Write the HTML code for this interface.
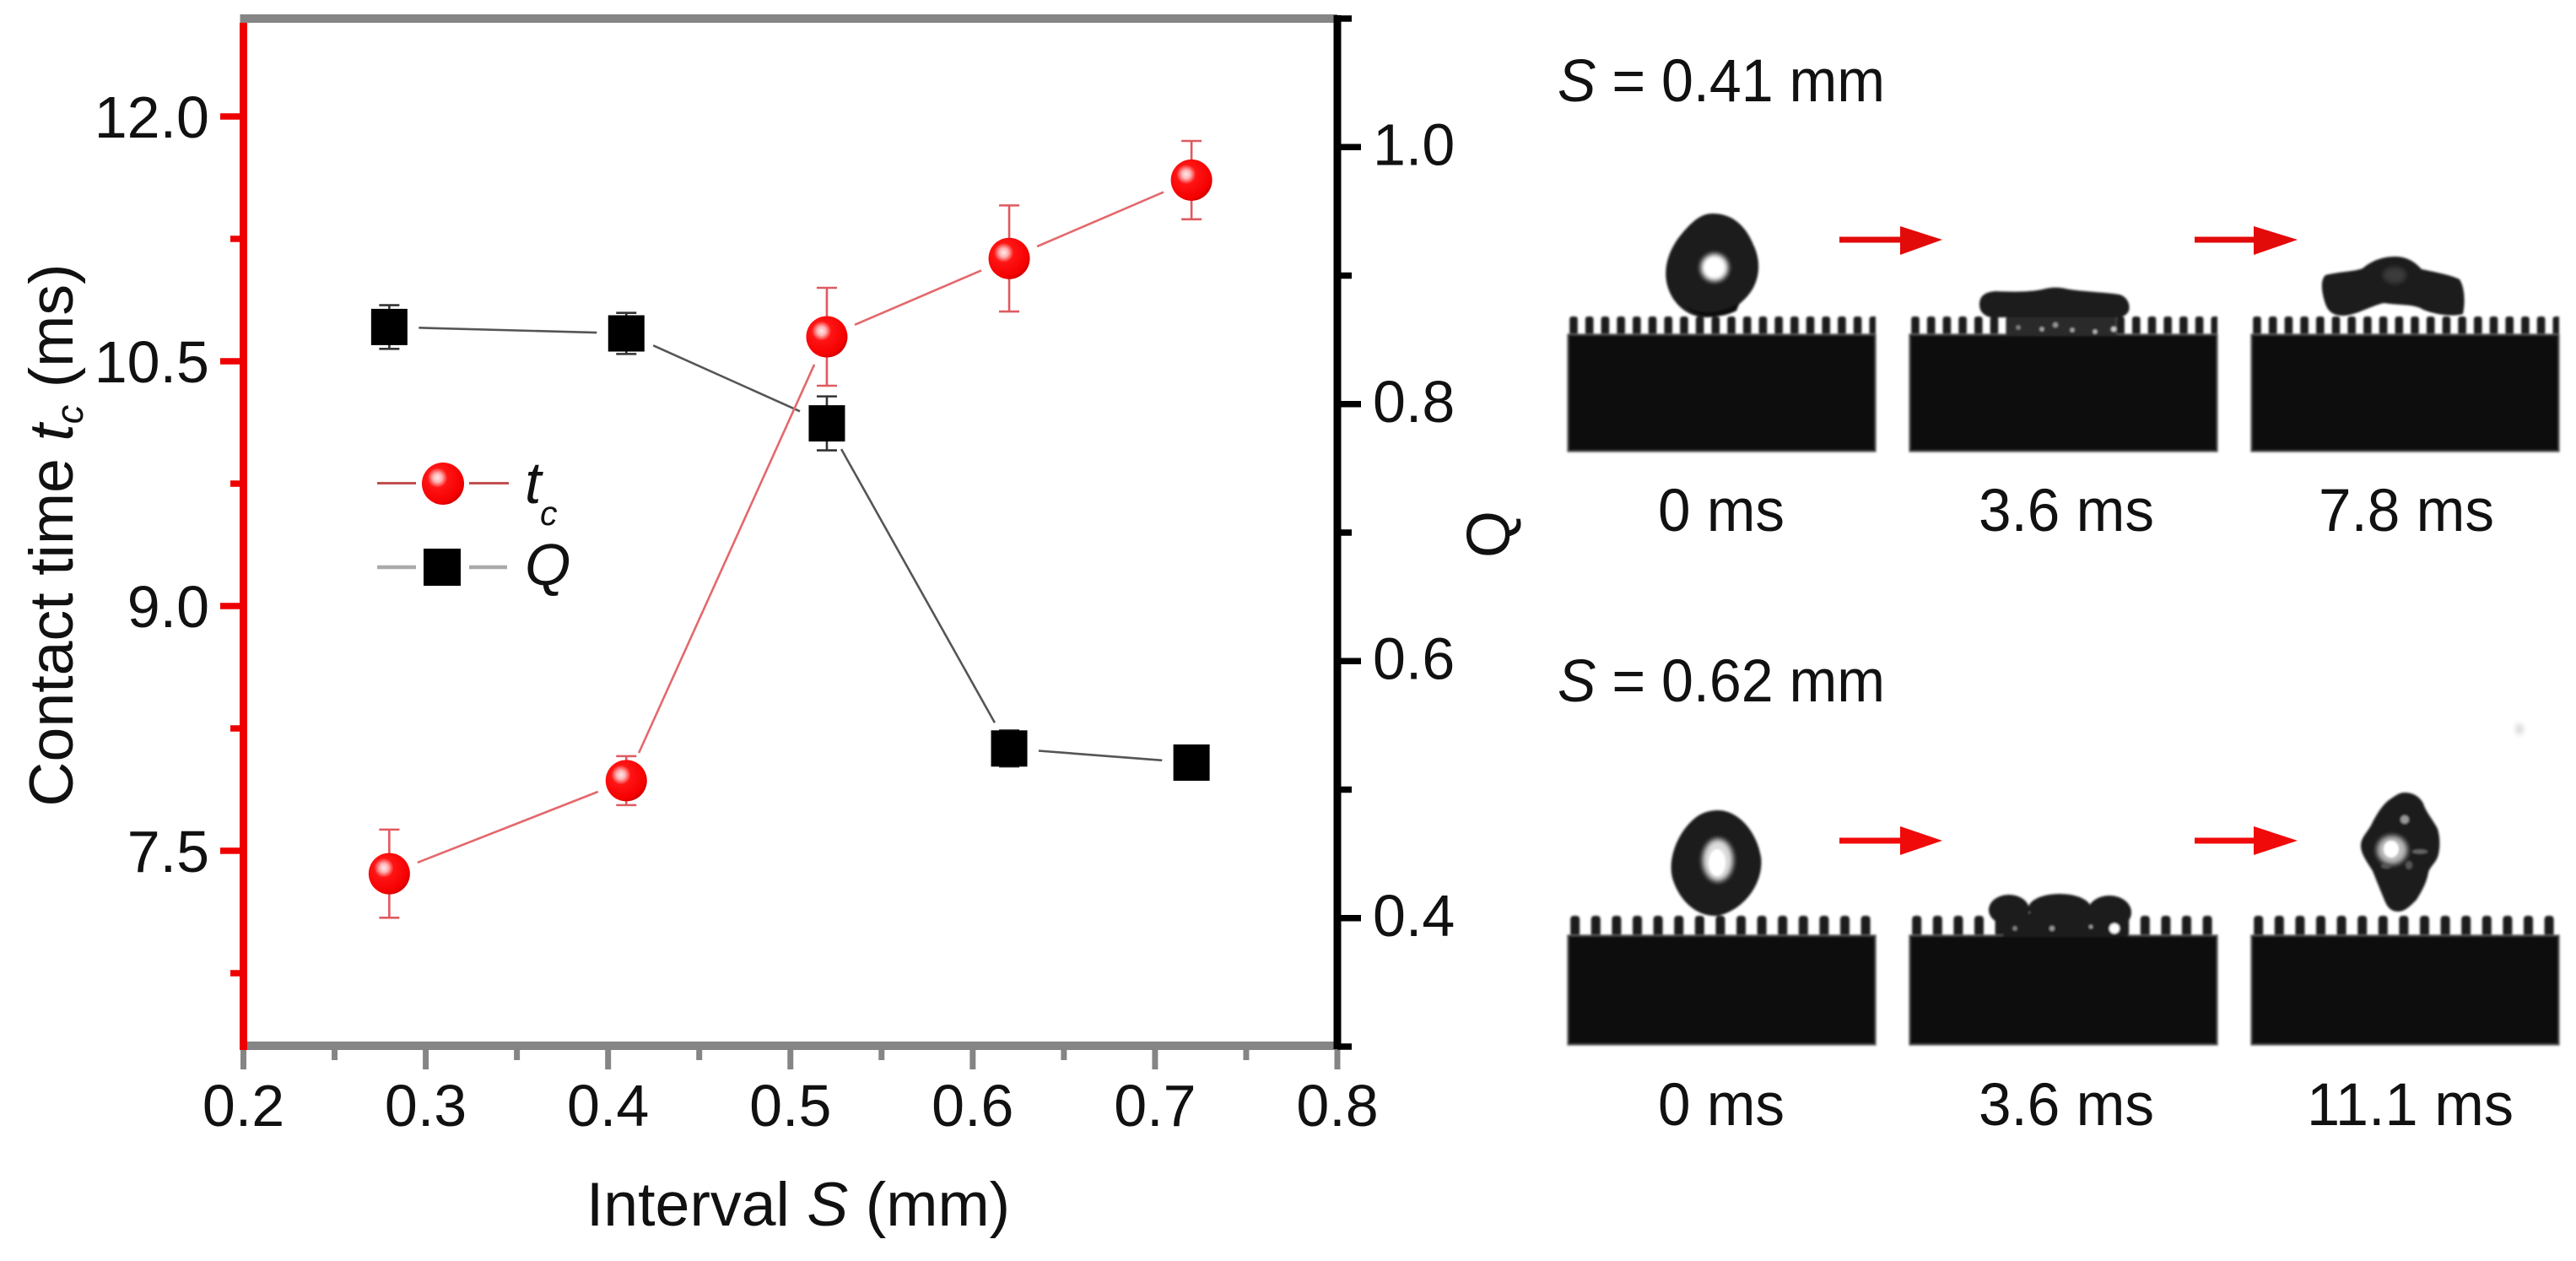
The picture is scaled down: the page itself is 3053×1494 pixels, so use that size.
<!DOCTYPE html>
<html lang="en">
<head>
<meta charset="utf-8">
<title>Contact time and Q versus interval S</title>
<style>
html,body{margin:0;padding:0;background:#fff;}
body{width:3053px;height:1494px;overflow:hidden;}
svg{display:block;}
text{font-family:"Liberation Sans",Arial,sans-serif;fill:#111;}
</style>
</head>
<body>
<svg id="fig" xmlns="http://www.w3.org/2000/svg" width="3053" height="1494" viewBox="0 0 3053 1494">
<defs>
<radialGradient id="ball" cx="0.37" cy="0.36" r="0.66">
<stop offset="0" stop-color="#ffe8e8"/>
<stop offset="0.16" stop-color="#ffb4b4"/>
<stop offset="0.36" stop-color="#ff1414"/>
<stop offset="0.9" stop-color="#f40000"/>
<stop offset="1" stop-color="#d60000"/>
</radialGradient>
<filter id="soft" x="-5%" y="-5%" width="110%" height="110%"><feGaussianBlur stdDeviation="1.3"/></filter>
<filter id="softer" x="-40%" y="-40%" width="180%" height="180%"><feGaussianBlur stdDeviation="3"/></filter>
<pattern id="teeth1" patternUnits="userSpaceOnUse" x="1860.2" y="370" width="18.7" height="40"><rect x="0" y="5" width="9.6" height="35" rx="3" fill="#1a1a1a"/></pattern>
<pattern id="teeth2" patternUnits="userSpaceOnUse" x="1861.2" y="1080" width="24.6" height="40"><rect x="0" y="5" width="11" height="35" rx="4" fill="#1a1a1a"/></pattern>
<g id="panel-row-1">
<rect x="1858" y="375" width="365" height="25" fill="url(#teeth1)"/>
<rect x="1858" y="396" width="365" height="139" fill="#111111" stroke="#666" stroke-width="1.5"/>
</g>
<g id="panel-row-2">
<rect x="1858" y="1085" width="365" height="28" fill="url(#teeth2)"/>
<rect x="1858" y="1108" width="365" height="130" fill="#111111" stroke="#666" stroke-width="1.5"/>
</g>
</defs>
<rect x="0" y="0" width="3053" height="1494" fill="#ffffff"/>

<g id="plot"></g>

<g>
<text x="946" y="1452" text-anchor="middle" font-size="73.500">Interval <tspan font-style="italic">S</tspan> (mm)</text>
</g>
<g>
<text transform="translate(86,634) rotate(-90)" text-anchor="middle" font-size="73.500">Contact time <tspan font-style="italic">t</tspan><tspan font-style="italic" font-size="45" dy="12">c</tspan><tspan dy="-12"> (ms)</tspan></text>
</g>
<g>
<text transform="translate(1789,633) rotate(-90)" text-anchor="middle" font-size="72">Q</text>
</g>

<g>
<g>
<line x1="447" y1="572.500" x2="493" y2="572.500" stroke="#c25050" stroke-width="3"/>
<line x1="556" y1="572.500" x2="603" y2="572.500" stroke="#c25050" stroke-width="3"/>
<circle cx="525" cy="573" r="25" fill="url(#ball)"/>
<text x="622" y="596" font-size="70" font-style="italic">t</text>
<text x="640" y="622" font-size="41" font-style="italic">c</text>
</g>
<g>
<line x1="447" y1="672" x2="493" y2="672" stroke="#aaaaaa" stroke-width="4.500"/>
<line x1="556" y1="672" x2="601" y2="672" stroke="#aaaaaa" stroke-width="4.500"/>
<rect x="502" y="650" width="44" height="44" fill="#000"/>
<text x="622" y="693" font-size="70" font-style="italic">Q</text>
</g>
</g>

<!-- Photo strip, row 1 -->
<g>
<text x="1846" y="120" font-size="71" textLength="388" lengthAdjust="spacingAndGlyphs"><tspan font-style="italic">S</tspan> = 0.41 mm</text>
<g filter="url(#soft)">
<g>
<use href="#panel-row-1"/>
<path d="M2030 253C2055 253 2070 270 2078 290C2088 310 2086 335 2070 352C2055 368 2038 376 2022 376C2000 376 1982 360 1976 338C1970 315 1980 292 1994 276C2006 262 2016 253 2030 253Z" fill="#1a1a1a"/>
<path d="M1998 362C2012 372 2036 374 2062 358L2058 368C2040 378 2010 378 1998 362Z" fill="#0a0a0a"/>
<ellipse cx="2032" cy="317" rx="16" ry="16" fill="#fff" filter="url(#softer)"/>
<ellipse cx="2031" cy="317" rx="11" ry="11" fill="#fff"/>
</g>
<g>
<use href="#panel-row-1" transform="translate(405,0)"/>
<rect x="2378" y="372" width="130" height="26" fill="#2a2a2a"/>
<path d="M2346 361C2346 351 2352 346 2365 345C2385 346 2405 346 2420 343C2430 340 2440 340 2448 342C2470 346 2495 346 2512 349C2522 352 2525 362 2523 368C2520 376 2510 377 2500 376L2370 376C2356 378 2346 372 2346 361Z" fill="#1e1e1e"/>
<circle cx="2420" cy="390" r="2.500" fill="#aaa"/><circle cx="2436" cy="385" r="3" fill="#999"/><circle cx="2456" cy="391" r="2.500" fill="#aaa"/><circle cx="2483" cy="393" r="2.500" fill="#bbb"/><circle cx="2392" cy="388" r="2.500" fill="#888"/><circle cx="2505" cy="390" r="3" fill="#ccc"/>
</g>
<g>
<use href="#panel-row-1" transform="translate(810,0)"/>
<path d="M2839 304C2852 304 2862 310 2870 319C2885 322 2905 326 2915 331C2921 340 2922 358 2919 372C2905 376 2885 372 2872 367C2862 360 2845 362 2825 359C2812 362 2798 370 2785 373C2770 376 2760 372 2756 360C2751 345 2750 332 2756 326C2770 322 2790 322 2800 318C2812 308 2825 304 2839 304Z" fill="#1c1c1c"/>
<ellipse cx="2838" cy="326" rx="14" ry="10" fill="#3a3a3a" filter="url(#softer)"/>
</g>
</g>
<polygon points="2180,280.500 2252,280.500 2252,268 2302,284 2252,302 2252,287.500 2180,287.500" fill="#e30a0a"/>
<polygon points="2601,280.500 2671,280.500 2671,268 2723,284 2671,302 2671,287.500 2601,287.500" fill="#e30a0a"/>
<text x="1965" y="629" font-size="71" textLength="150" lengthAdjust="spacingAndGlyphs">0 ms</text>
<text x="2345" y="629" font-size="71" textLength="208" lengthAdjust="spacingAndGlyphs">3.6 ms</text>
<text x="2748" y="629" font-size="71" textLength="208" lengthAdjust="spacingAndGlyphs">7.8 ms</text>
</g>

<!-- Photo strip, row 2 -->
<g>
<text x="1846" y="831" font-size="71" textLength="388" lengthAdjust="spacingAndGlyphs"><tspan font-style="italic">S</tspan> = 0.62 mm</text>
<g filter="url(#soft)">
<g>
<use href="#panel-row-2"/>
<path d="M2036 960C2060 960 2082 985 2087 1015C2091 1045 2068 1078 2036 1085C2012 1087 1990 1068 1982 1040C1976 1015 1990 985 2008 970C2016 963 2026 960 2036 960Z" fill="#1b1b1b"/>
<ellipse cx="2036" cy="1019" rx="18" ry="25" fill="#ddd" filter="url(#softer)"/>
<ellipse cx="2035" cy="1022" rx="10" ry="16" fill="#fff"/>
</g>
<g>
<use href="#panel-row-2" transform="translate(405,0)"/>
<rect x="2374" y="1082" width="148" height="28" fill="#1c1c1c"/>
<ellipse cx="2381" cy="1078" rx="24" ry="18" fill="#1c1c1c"/>
<ellipse cx="2441" cy="1076" rx="37" ry="17" fill="#1c1c1c"/>
<ellipse cx="2500" cy="1081" rx="26" ry="20" fill="#1c1c1c"/>
<circle cx="2506" cy="1100" r="6" fill="#fff"/><circle cx="2432" cy="1100" r="3" fill="#999"/><circle cx="2388" cy="1100" r="2.500" fill="#888"/><circle cx="2478" cy="1098" r="2" fill="#aaa"/>
</g>
<g>
<use href="#panel-row-2" transform="translate(810,0)"/>
<path d="M2850 939C2860 939 2868 944 2872 952C2875 962 2884 972 2889 982C2892 992 2892 1004 2890 1012C2888 1022 2880 1026 2878 1034C2876 1046 2870 1056 2864 1066C2856 1074 2850 1080 2842 1080C2832 1080 2828 1072 2825 1064C2820 1052 2816 1042 2812 1032C2806 1022 2798 1012 2798 1002C2798 992 2806 986 2811 976C2816 966 2824 952 2834 946C2840 942 2844 939 2850 939Z" fill="#1b1b1b"/>
<ellipse cx="2835" cy="1007" rx="18" ry="17" fill="#bbb" filter="url(#softer)"/>
<ellipse cx="2834" cy="1006" rx="9" ry="10" fill="#fff"/>
<circle cx="2850" cy="971" r="5" fill="#999"/>
<ellipse cx="2868" cy="1009" rx="9" ry="2.500" fill="#666"/>
<ellipse cx="2828" cy="1026" rx="6" ry="3" fill="#555"/><ellipse cx="2855" cy="1025" rx="4" ry="5" fill="#555"/>
</g>
</g>
<polygon points="2180,992.500 2252,992.500 2252,979 2302,996 2252,1013 2252,999.500 2180,999.500" fill="#f00a0a"/>
<polygon points="2601,992.500 2671,992.500 2671,979 2723,996 2671,1013 2671,999.500 2601,999.500" fill="#f00a0a"/>
<ellipse cx="2986" cy="864" rx="5" ry="7" fill="#ddd" filter="url(#softer)"/>
<text x="1965" y="1333" font-size="71" textLength="150" lengthAdjust="spacingAndGlyphs">0 ms</text>
<text x="2345" y="1333" font-size="71" textLength="208" lengthAdjust="spacingAndGlyphs">3.6 ms</text>
<text x="2734" y="1333" font-size="71" textLength="245" lengthAdjust="spacingAndGlyphs">11.1 ms</text>
</g>
</svg>

<script>
const intervalS = [0.28, 0.41, 0.52, 0.62, 0.72];
const contactTime = [7.36, 7.93, 10.65, 11.13, 11.61];
const contactTimeErr = [0.27, 0.15, 0.30, 0.325, 0.24];
const qValues = [0.86, 0.855, 0.785, 0.532, 0.521];
const qErr = [0.017, 0.016, 0.021, 0.014, 0.004];
const xMajorTicks = [0.2, 0.3, 0.4, 0.5, 0.6, 0.7, 0.8];
const xMinorTicks = [0.25, 0.35, 0.45, 0.55, 0.65, 0.75];
const xTickLabels = ["0.2", "0.3", "0.4", "0.5", "0.6", "0.7", "0.8"];
const leftMajorTicks = [7.5, 9.0, 10.5, 12.0];
const leftMinorTicks = [6.75, 8.25, 9.75, 11.25];
const leftTickLabels = ["7.5", "9.0", "10.5", "12.0"];
const rightMajorTicks = [0.4, 0.6, 0.8, 1.0];
const rightMinorTicks = [0.3, 0.5, 0.7, 0.9, 1.1];
const rightTickLabels = ["0.4", "0.6", "0.8", "1.0"];

const xDomain = [0.2, 0.8];
const leftDomain = [6.3, 12.6];
const rightDomain = [0.3, 1.1];
const plotLeft = 288.5;
const plotRight = 1585;
const plotTop = 22;
const plotBottom = 1240;

function xScale(v) {
  return plotLeft + (v - xDomain[0]) / (xDomain[1] - xDomain[0]) * (plotRight - plotLeft);
}
function yLeft(v) {
  return plotBottom - (v - leftDomain[0]) / (leftDomain[1] - leftDomain[0]) * (plotBottom - plotTop);
}
function yRight(v) {
  return plotBottom - (v - rightDomain[0]) / (rightDomain[1] - rightDomain[0]) * (plotBottom - plotTop);
}

const svgNS = "http://www.w3.org/2000/svg";
const plot = document.getElementById("plot");
function make(tag, attrs, parent) {
  const el = document.createElementNS(svgNS, tag);
  for (const k in attrs) el.setAttribute(k, attrs[k]);
  (parent || plot).appendChild(el);
  return el;
}

const gray = "#858585";
const red = "#ee0000";
const black = "#000000";

// x axis ticks and labels
xMajorTicks.forEach(function (v, i) {
  const t = make("line", { x1: xScale(v), x2: xScale(v), y1: plotBottom, y2: 1267, stroke: gray, "stroke-width": 7 });
  
  
  const l = make("text", { x: xScale(v), y: 1334, "text-anchor": "middle", "font-size": 70 });
  l.textContent = xTickLabels[i];
  
  
});
xMinorTicks.forEach(function (v) {
  const t = make("line", { x1: xScale(v), x2: xScale(v), y1: plotBottom, y2: 1256, stroke: gray, "stroke-width": 7 });
  
  
});

// frame: bottom and top axes
const bottomAxis = make("line", { x1: plotLeft - 4, x2: plotRight, y1: plotBottom - 1, y2: plotBottom - 1, stroke: gray, "stroke-width": 10 });


const topAxis = make("line", { x1: plotLeft - 4, x2: plotRight, y1: plotTop, y2: plotTop, stroke: gray, "stroke-width": 10 });



// left axis
const leftAxis = make("line", { x1: plotLeft, x2: plotLeft, y1: plotTop + 5, y2: plotBottom + 4, stroke: red, "stroke-width": 9 });


leftMajorTicks.forEach(function (v, i) {
  const t = make("line", { x1: 261, x2: plotLeft, y1: yLeft(v), y2: yLeft(v), stroke: red, "stroke-width": 7.5 });
  
  
  const l = make("text", { x: 248, y: yLeft(v) + 25, "text-anchor": "end", "font-size": 70 });
  l.textContent = leftTickLabels[i];
  
  
});
leftMinorTicks.forEach(function (v) {
  const t = make("line", { x1: 273, x2: plotLeft, y1: yLeft(v), y2: yLeft(v), stroke: red, "stroke-width": 7.5 });
  
  
});

// right axis
const rightAxis = make("line", { x1: plotRight, x2: plotRight, y1: plotTop - 4, y2: plotBottom + 3, stroke: black, "stroke-width": 9 });


rightMajorTicks.forEach(function (v, i) {
  const t = make("line", { x1: plotRight, x2: 1613, y1: yRight(v), y2: yRight(v), stroke: black, "stroke-width": 7.5 });
  
  
  const l = make("text", { x: 1627, y: yRight(v) + 21, "font-size": 70 });
  l.textContent = rightTickLabels[i];
  
  
});
rightMinorTicks.forEach(function (v) {
  const t = make("line", { x1: plotRight, x2: 1602, y1: yRight(v), y2: yRight(v), stroke: black, "stroke-width": 7.5 });
  
  
});

// series connector drawn with a gap around each marker
function connector(xs, ys, color, gap, i) {
  const dx = xs[i + 1] - xs[i];
  const dy = ys[i + 1] - ys[i];
  const len = Math.sqrt(dx * dx + dy * dy);
  const ux = dx / len;
  const uy = dy / len;
  return make("line", {
    x1: xs[i] + ux * gap, y1: ys[i] + uy * gap,
    x2: xs[i + 1] - ux * gap, y2: ys[i + 1] - uy * gap,
    stroke: color, "stroke-width": 2.6
  });
}

const px = intervalS.map(xScale);
const tcY = contactTime.map(yLeft);
const qY = qValues.map(yRight);

for (let i = 0; i < px.length - 1; i++) {
  const s = connector(px, qY, "#555555", 35, i);
  
  
}
for (let i = 0; i < px.length - 1; i++) {
  const s = connector(px, tcY, "#e4686c", 36, i);
  
  
}

// Q error bars + markers
intervalS.forEach(function (v, i) {
  const x = xScale(v);
  const hi = yRight(qValues[i] + qErr[i]);
  const lo = yRight(qValues[i] - qErr[i]);
  const e = make("path", {
    d: "M" + (x - 12) + " " + hi + "H" + (x + 12) + "M" + x + " " + hi + "V" + lo + "M" + (x - 12) + " " + lo + "H" + (x + 12),
    fill: "none", stroke: "#333333", "stroke-width": 2.6
  });
  
  
  const m = make("rect", { x: x - 21.5, y: yRight(qValues[i]) - 21.5, width: 43, height: 43, fill: "#000" });
  
  
});

// tc error bars + markers
intervalS.forEach(function (v, i) {
  const x = xScale(v);
  const hi = yLeft(contactTime[i] + contactTimeErr[i]);
  const lo = yLeft(contactTime[i] - contactTimeErr[i]);
  const e = make("path", {
    d: "M" + (x - 12) + " " + hi + "H" + (x + 12) + "M" + x + " " + hi + "V" + lo + "M" + (x - 12) + " " + lo + "H" + (x + 12),
    fill: "none", stroke: "#df5a60", "stroke-width": 2.6
  });
  
  
  const m = make("circle", { cx: x, cy: yLeft(contactTime[i]), r: 24.5, fill: "url(#ball)" });
  
  
});
</script>
</body>
</html>
